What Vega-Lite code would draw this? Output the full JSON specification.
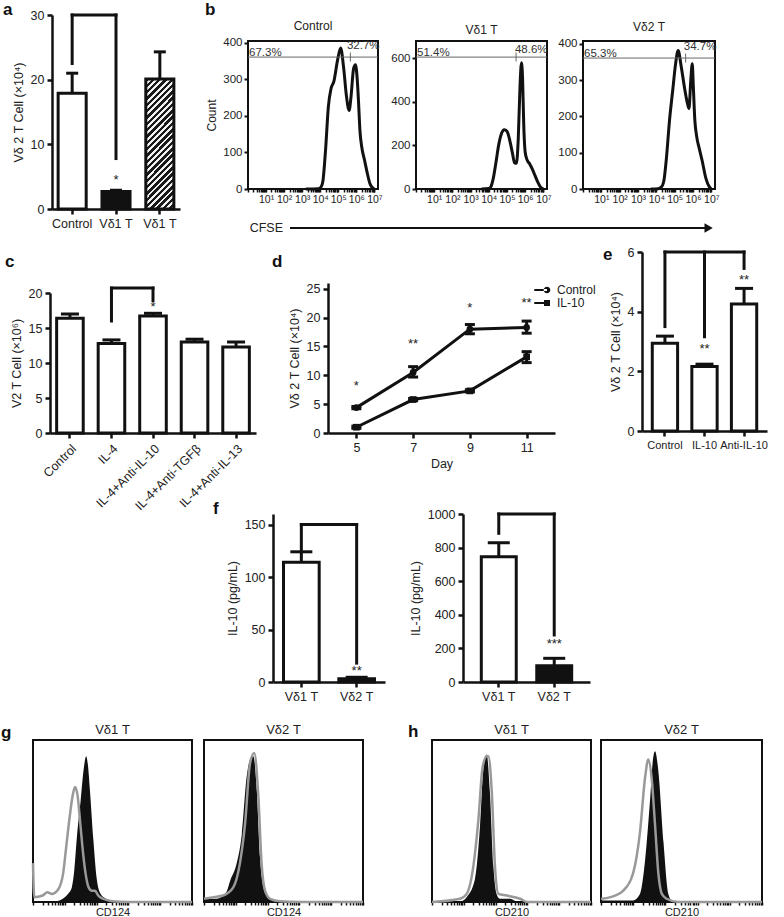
{
"$schema": "https://vega.github.io/schema/vega-lite/v6.json",
"padding": 0,
"background": "white",
"bounds": "flush",
"spacing": 0,
"data": {"values": []},
"config": {
  "view": {"stroke": null},
  "font": "Liberation Sans",
  "axis": {"grid": false, "domainColor": "#111", "domainWidth": 2.5, "tickColor": "#111", "tickWidth": 2.5, "tickSize": 5, "labelFontSize": 12.5, "labelColor": "#222", "titleFontSize": 12.5, "titleFontWeight": "normal", "titleColor": "#222", "labelPadding": 3, "titlePadding": 5, "labelOverlap": false},
  "title": {"fontSize": 17, "fontWeight": "bold", "color": "#111", "anchor": "start", "frame": "group"},
  "legend": {"labelFontSize": 12, "labelColor": "#222"}
},
"datasets": {
  "a_bars": [
    {"bar": "Control", "mean": 17.9, "upper": 21.0},
    {"bar": "Vδ1 T", "mean": 2.7, "upper": 2.9},
    {"bar": "Vδ1 T (2)", "mean": 20.1, "upper": 24.3}
  ],
  "c_bars": [
    {"treatment": "Control", "mean": 16.4, "upper": 17.0},
    {"treatment": "IL-4", "mean": 12.8, "upper": 13.3},
    {"treatment": "IL-4+Anti-IL-10", "mean": 16.7, "upper": 17.1},
    {"treatment": "IL-4+Anti-TGFβ", "mean": 13.0, "upper": 13.4},
    {"treatment": "IL-4+Anti-IL-13", "mean": 12.3, "upper": 13.0}
  ],
  "e_bars": [
    {"treatment": "Control", "mean": 2.94, "upper": 3.18},
    {"treatment": "IL-10", "mean": 2.16, "upper": 2.24},
    {"treatment": "Anti-IL-10", "mean": 4.26, "upper": 4.78}
  ],
  "f_bars": [
    {"panel": "f1", "cell": "Vδ1 T", "mean": 114, "upper": 124},
    {"panel": "f1", "cell": "Vδ2 T", "mean": 3, "upper": 4.5},
    {"panel": "f2", "cell": "Vδ1 T", "mean": 746, "upper": 829},
    {"panel": "f2", "cell": "Vδ2 T", "mean": 97, "upper": 141}
  ],
  "brackets": [
    {"panel": "a", "from": "Control", "to": "Control", "top": 30, "bottom": 22.5},
    {"panel": "a", "from": "Control", "to": "Vδ1 T", "top": 30, "bottom": 30},
    {"panel": "a", "from": "Vδ1 T", "to": "Vδ1 T", "top": 30, "bottom": 7.8},
    {"panel": "c", "from": "IL-4", "to": "IL-4", "top": 20.7, "bottom": 16.0},
    {"panel": "c", "from": "IL-4", "to": "IL-4+Anti-IL-10", "top": 20.7, "bottom": 20.7},
    {"panel": "c", "from": "IL-4+Anti-IL-10", "to": "IL-4+Anti-IL-10", "top": 20.7, "bottom": 18.9},
    {"panel": "e", "from": "Control", "to": "Control", "top": 6, "bottom": 3.5},
    {"panel": "e", "from": "Control", "to": "Anti-IL-10", "top": 6, "bottom": 6},
    {"panel": "e", "from": "IL-10", "to": "IL-10", "top": 6, "bottom": 3.16},
    {"panel": "e", "from": "Anti-IL-10", "to": "Anti-IL-10", "top": 6, "bottom": 5.45},
    {"panel": "f1", "from": "Vδ1 T", "to": "Vδ1 T", "top": 150, "bottom": 124},
    {"panel": "f1", "from": "Vδ1 T", "to": "Vδ2 T", "top": 150, "bottom": 150},
    {"panel": "f1", "from": "Vδ2 T", "to": "Vδ2 T", "top": 150, "bottom": 18},
    {"panel": "f2", "from": "Vδ1 T", "to": "Vδ1 T", "top": 1000, "bottom": 885},
    {"panel": "f2", "from": "Vδ1 T", "to": "Vδ2 T", "top": 1000, "bottom": 1000},
    {"panel": "f2", "from": "Vδ2 T", "to": "Vδ2 T", "top": 1000, "bottom": 280}
  ],
  "stars": [
    {"panel": "a", "group": "Vδ1 T", "height": 4.5, "label": "*"},
    {"panel": "c", "group": "IL-4+Anti-IL-10", "height": 18.0, "label": "*"},
    {"panel": "e", "group": "IL-10", "height": 2.74, "label": "**"},
    {"panel": "e", "group": "Anti-IL-10", "height": 5.06, "label": "**"},
    {"panel": "f1", "group": "Vδ2 T", "height": 10.7, "label": "**"},
    {"panel": "f2", "group": "Vδ2 T", "height": 226, "label": "***"}
  ],
  "d_growth": [
    {"group": "Control", "day": 5, "mean": 4.4, "lo": 4.2, "hi": 4.6},
    {"group": "Control", "day": 7, "mean": 10.5, "lo": 9.7, "hi": 11.5},
    {"group": "Control", "day": 9, "mean": 18.0, "lo": 17.2, "hi": 18.8},
    {"group": "Control", "day": 11, "mean": 18.3, "lo": 17.3, "hi": 19.4},
    {"group": "IL-10", "day": 5, "mean": 1.0, "lo": 0.8, "hi": 1.2},
    {"group": "IL-10", "day": 7, "mean": 5.8, "lo": 5.6, "hi": 6.0},
    {"group": "IL-10", "day": 9, "mean": 7.3, "lo": 7.1, "hi": 7.5},
    {"group": "IL-10", "day": 11, "mean": 13.2, "lo": 12.2, "hi": 14.1}
  ],
  "d_stars": [
    {"day": 5, "height": 8.2, "label": "*"},
    {"day": 7, "height": 15.5, "label": "**"},
    {"day": 9, "height": 21.7, "label": "*"},
    {"day": 11, "height": 22.6, "label": "**"}
  ],
  "gates": [
    {"panel": "Control", "gate_count": 361, "split": 5.67, "left_pct": "67.3%", "right_pct": "32.7%", "right_x": 5.48, "right_count": 383},
    {"panel": "Vδ1 T", "gate_count": 606, "split": 5.5, "left_pct": "51.4%", "right_pct": "48.6%", "right_x": 5.44, "right_count": 624},
    {"panel": "Vδ2 T", "gate_count": 361, "split": 5.6, "left_pct": "65.3%", "right_pct": "34.7%", "right_x": 5.5, "right_count": 383}
  ],
  "cfse": [
    {"panel": "Control", "log10_cfse": 3.2, "count": 0},
    {"panel": "Control", "log10_cfse": 3.9, "count": 1},
    {"panel": "Control", "log10_cfse": 4.05, "count": 6},
    {"panel": "Control", "log10_cfse": 4.15, "count": 22},
    {"panel": "Control", "log10_cfse": 4.3, "count": 110},
    {"panel": "Control", "log10_cfse": 4.45, "count": 225},
    {"panel": "Control", "log10_cfse": 4.6, "count": 275},
    {"panel": "Control", "log10_cfse": 4.76, "count": 295},
    {"panel": "Control", "log10_cfse": 4.95, "count": 350},
    {"panel": "Control", "log10_cfse": 5.13, "count": 386},
    {"panel": "Control", "log10_cfse": 5.3, "count": 330},
    {"panel": "Control", "log10_cfse": 5.45, "count": 255},
    {"panel": "Control", "log10_cfse": 5.6, "count": 215},
    {"panel": "Control", "log10_cfse": 5.7, "count": 250},
    {"panel": "Control", "log10_cfse": 5.85, "count": 330},
    {"panel": "Control", "log10_cfse": 5.95, "count": 340},
    {"panel": "Control", "log10_cfse": 6.05, "count": 300},
    {"panel": "Control", "log10_cfse": 6.12, "count": 240},
    {"panel": "Control", "log10_cfse": 6.2, "count": 160},
    {"panel": "Control", "log10_cfse": 6.3, "count": 115},
    {"panel": "Control", "log10_cfse": 6.45, "count": 80},
    {"panel": "Control", "log10_cfse": 6.6, "count": 45},
    {"panel": "Control", "log10_cfse": 6.75, "count": 15},
    {"panel": "Control", "log10_cfse": 6.9, "count": 3},
    {"panel": "Control", "log10_cfse": 7.0, "count": 0},
    {"panel": "Vδ1 T", "log10_cfse": 3.6, "count": 0},
    {"panel": "Vδ1 T", "log10_cfse": 4.0, "count": 2},
    {"panel": "Vδ1 T", "log10_cfse": 4.1, "count": 8},
    {"panel": "Vδ1 T", "log10_cfse": 4.25, "count": 50},
    {"panel": "Vδ1 T", "log10_cfse": 4.4, "count": 125},
    {"panel": "Vδ1 T", "log10_cfse": 4.55, "count": 205},
    {"panel": "Vδ1 T", "log10_cfse": 4.7, "count": 255},
    {"panel": "Vδ1 T", "log10_cfse": 4.85, "count": 272},
    {"panel": "Vδ1 T", "log10_cfse": 5.0, "count": 265},
    {"panel": "Vδ1 T", "log10_cfse": 5.15, "count": 225},
    {"panel": "Vδ1 T", "log10_cfse": 5.3, "count": 165},
    {"panel": "Vδ1 T", "log10_cfse": 5.42, "count": 120},
    {"panel": "Vδ1 T", "log10_cfse": 5.52, "count": 118},
    {"panel": "Vδ1 T", "log10_cfse": 5.62, "count": 230},
    {"panel": "Vδ1 T", "log10_cfse": 5.72, "count": 480},
    {"panel": "Vδ1 T", "log10_cfse": 5.8, "count": 580},
    {"panel": "Vδ1 T", "log10_cfse": 5.86, "count": 500},
    {"panel": "Vδ1 T", "log10_cfse": 5.92, "count": 300},
    {"panel": "Vδ1 T", "log10_cfse": 6.0, "count": 170},
    {"panel": "Vδ1 T", "log10_cfse": 6.1, "count": 135},
    {"panel": "Vδ1 T", "log10_cfse": 6.25, "count": 115},
    {"panel": "Vδ1 T", "log10_cfse": 6.4, "count": 90},
    {"panel": "Vδ1 T", "log10_cfse": 6.55, "count": 60},
    {"panel": "Vδ1 T", "log10_cfse": 6.7, "count": 30},
    {"panel": "Vδ1 T", "log10_cfse": 6.85, "count": 8},
    {"panel": "Vδ1 T", "log10_cfse": 7.0, "count": 0},
    {"panel": "Vδ2 T", "log10_cfse": 3.7, "count": 0},
    {"panel": "Vδ2 T", "log10_cfse": 4.1, "count": 1},
    {"panel": "Vδ2 T", "log10_cfse": 4.25, "count": 4},
    {"panel": "Vδ2 T", "log10_cfse": 4.4, "count": 20},
    {"panel": "Vδ2 T", "log10_cfse": 4.55, "count": 85},
    {"panel": "Vδ2 T", "log10_cfse": 4.72, "count": 190},
    {"panel": "Vδ2 T", "log10_cfse": 4.9, "count": 275},
    {"panel": "Vδ2 T", "log10_cfse": 5.05, "count": 345},
    {"panel": "Vδ2 T", "log10_cfse": 5.19, "count": 382},
    {"panel": "Vδ2 T", "log10_cfse": 5.35, "count": 340},
    {"panel": "Vδ2 T", "log10_cfse": 5.55, "count": 275},
    {"panel": "Vδ2 T", "log10_cfse": 5.7, "count": 235},
    {"panel": "Vδ2 T", "log10_cfse": 5.78, "count": 222},
    {"panel": "Vδ2 T", "log10_cfse": 5.88, "count": 300},
    {"panel": "Vδ2 T", "log10_cfse": 5.96, "count": 345},
    {"panel": "Vδ2 T", "log10_cfse": 6.02, "count": 280},
    {"panel": "Vδ2 T", "log10_cfse": 6.1, "count": 190},
    {"panel": "Vδ2 T", "log10_cfse": 6.2, "count": 145},
    {"panel": "Vδ2 T", "log10_cfse": 6.35, "count": 110},
    {"panel": "Vδ2 T", "log10_cfse": 6.5, "count": 78},
    {"panel": "Vδ2 T", "log10_cfse": 6.7, "count": 30},
    {"panel": "Vδ2 T", "log10_cfse": 6.9, "count": 5},
    {"panel": "Vδ2 T", "log10_cfse": 7.0, "count": 0}
  ],
  "markers": [
    {"panel": "g1", "series": "antibody", "log_intensity": 0, "count": 0},
    {"panel": "g1", "series": "antibody", "log_intensity": 0.7, "count": 0.5},
    {"panel": "g1", "series": "antibody", "log_intensity": 1.0, "count": 3},
    {"panel": "g1", "series": "antibody", "log_intensity": 1.1, "count": 5},
    {"panel": "g1", "series": "antibody", "log_intensity": 1.22, "count": 9},
    {"panel": "g1", "series": "antibody", "log_intensity": 1.3, "count": 20},
    {"panel": "g1", "series": "antibody", "log_intensity": 1.38, "count": 40},
    {"panel": "g1", "series": "antibody", "log_intensity": 1.5, "count": 63},
    {"panel": "g1", "series": "antibody", "log_intensity": 1.6, "count": 83},
    {"panel": "g1", "series": "antibody", "log_intensity": 1.67, "count": 90},
    {"panel": "g1", "series": "antibody", "log_intensity": 1.73, "count": 84},
    {"panel": "g1", "series": "antibody", "log_intensity": 1.79, "count": 69},
    {"panel": "g1", "series": "antibody", "log_intensity": 1.9, "count": 38},
    {"panel": "g1", "series": "antibody", "log_intensity": 2.0, "count": 15},
    {"panel": "g1", "series": "antibody", "log_intensity": 2.1, "count": 6},
    {"panel": "g1", "series": "antibody", "log_intensity": 2.3, "count": 2},
    {"panel": "g1", "series": "antibody", "log_intensity": 2.6, "count": 0.5},
    {"panel": "g1", "series": "antibody", "log_intensity": 3, "count": 0},
    {"panel": "g1", "series": "antibody", "log_intensity": 5, "count": 0},
    {"panel": "g1", "series": "control", "log_intensity": 0, "count": 24},
    {"panel": "g1", "series": "control", "log_intensity": 0.04, "count": 3},
    {"panel": "g1", "series": "control", "log_intensity": 0.3, "count": 4},
    {"panel": "g1", "series": "control", "log_intensity": 0.45, "count": 6},
    {"panel": "g1", "series": "control", "log_intensity": 0.6, "count": 5},
    {"panel": "g1", "series": "control", "log_intensity": 0.8, "count": 8},
    {"panel": "g1", "series": "control", "log_intensity": 0.95, "count": 18},
    {"panel": "g1", "series": "control", "log_intensity": 1.05, "count": 35},
    {"panel": "g1", "series": "control", "log_intensity": 1.15, "count": 52},
    {"panel": "g1", "series": "control", "log_intensity": 1.25, "count": 66},
    {"panel": "g1", "series": "control", "log_intensity": 1.32, "count": 71},
    {"panel": "g1", "series": "control", "log_intensity": 1.4, "count": 66},
    {"panel": "g1", "series": "control", "log_intensity": 1.48, "count": 50},
    {"panel": "g1", "series": "control", "log_intensity": 1.55, "count": 35},
    {"panel": "g1", "series": "control", "log_intensity": 1.65, "count": 18},
    {"panel": "g1", "series": "control", "log_intensity": 1.75, "count": 9},
    {"panel": "g1", "series": "control", "log_intensity": 1.85, "count": 7},
    {"panel": "g1", "series": "control", "log_intensity": 1.95, "count": 7},
    {"panel": "g1", "series": "control", "log_intensity": 2.05, "count": 4},
    {"panel": "g1", "series": "control", "log_intensity": 2.2, "count": 2},
    {"panel": "g1", "series": "control", "log_intensity": 2.5, "count": 0.5},
    {"panel": "g1", "series": "control", "log_intensity": 3, "count": 0},
    {"panel": "g1", "series": "control", "log_intensity": 5, "count": 0},
    {"panel": "g2", "series": "antibody", "log_intensity": 0, "count": 12},
    {"panel": "g2", "series": "antibody", "log_intensity": 0.04, "count": 2},
    {"panel": "g2", "series": "antibody", "log_intensity": 0.4, "count": 2},
    {"panel": "g2", "series": "antibody", "log_intensity": 0.7, "count": 6},
    {"panel": "g2", "series": "antibody", "log_intensity": 0.82, "count": 13},
    {"panel": "g2", "series": "antibody", "log_intensity": 1.03, "count": 24},
    {"panel": "g2", "series": "antibody", "log_intensity": 1.19, "count": 42},
    {"panel": "g2", "series": "antibody", "log_intensity": 1.34, "count": 77},
    {"panel": "g2", "series": "antibody", "log_intensity": 1.45, "count": 88},
    {"panel": "g2", "series": "antibody", "log_intensity": 1.55, "count": 90},
    {"panel": "g2", "series": "antibody", "log_intensity": 1.66, "count": 69},
    {"panel": "g2", "series": "antibody", "log_intensity": 1.76, "count": 28},
    {"panel": "g2", "series": "antibody", "log_intensity": 1.87, "count": 9},
    {"panel": "g2", "series": "antibody", "log_intensity": 1.97, "count": 4},
    {"panel": "g2", "series": "antibody", "log_intensity": 2.2, "count": 1},
    {"panel": "g2", "series": "antibody", "log_intensity": 2.6, "count": 0},
    {"panel": "g2", "series": "antibody", "log_intensity": 5, "count": 0},
    {"panel": "g2", "series": "control", "log_intensity": 0, "count": 2},
    {"panel": "g2", "series": "control", "log_intensity": 0.3, "count": 3},
    {"panel": "g2", "series": "control", "log_intensity": 0.6, "count": 4},
    {"panel": "g2", "series": "control", "log_intensity": 0.92, "count": 9},
    {"panel": "g2", "series": "control", "log_intensity": 1.13, "count": 24},
    {"panel": "g2", "series": "control", "log_intensity": 1.29, "count": 48},
    {"panel": "g2", "series": "control", "log_intensity": 1.45, "count": 86},
    {"panel": "g2", "series": "control", "log_intensity": 1.58, "count": 92},
    {"panel": "g2", "series": "control", "log_intensity": 1.71, "count": 65},
    {"panel": "g2", "series": "control", "log_intensity": 1.81, "count": 24},
    {"panel": "g2", "series": "control", "log_intensity": 1.92, "count": 7},
    {"panel": "g2", "series": "control", "log_intensity": 2.08, "count": 2},
    {"panel": "g2", "series": "control", "log_intensity": 2.4, "count": 0.5},
    {"panel": "g2", "series": "control", "log_intensity": 3, "count": 0},
    {"panel": "g2", "series": "control", "log_intensity": 5, "count": 0},
    {"panel": "h1", "series": "antibody", "log_intensity": 0, "count": 0},
    {"panel": "h1", "series": "antibody", "log_intensity": 0.9, "count": 0.5},
    {"panel": "h1", "series": "antibody", "log_intensity": 1.09, "count": 3},
    {"panel": "h1", "series": "antibody", "log_intensity": 1.35, "count": 14},
    {"panel": "h1", "series": "antibody", "log_intensity": 1.51, "count": 47},
    {"panel": "h1", "series": "antibody", "log_intensity": 1.61, "count": 81},
    {"panel": "h1", "series": "antibody", "log_intensity": 1.72, "count": 91},
    {"panel": "h1", "series": "antibody", "log_intensity": 1.82, "count": 68},
    {"panel": "h1", "series": "antibody", "log_intensity": 1.93, "count": 22},
    {"panel": "h1", "series": "antibody", "log_intensity": 2.03, "count": 5},
    {"panel": "h1", "series": "antibody", "log_intensity": 2.14, "count": 2},
    {"panel": "h1", "series": "antibody", "log_intensity": 2.45, "count": 2},
    {"panel": "h1", "series": "antibody", "log_intensity": 2.7, "count": 0},
    {"panel": "h1", "series": "antibody", "log_intensity": 5, "count": 0},
    {"panel": "h1", "series": "control", "log_intensity": 0, "count": 0},
    {"panel": "h1", "series": "control", "log_intensity": 0.88, "count": 2},
    {"panel": "h1", "series": "control", "log_intensity": 1.09, "count": 5},
    {"panel": "h1", "series": "control", "log_intensity": 1.3, "count": 22},
    {"panel": "h1", "series": "control", "log_intensity": 1.46, "count": 51},
    {"panel": "h1", "series": "control", "log_intensity": 1.59, "count": 83},
    {"panel": "h1", "series": "control", "log_intensity": 1.72, "count": 90},
    {"panel": "h1", "series": "control", "log_intensity": 1.77, "count": 90},
    {"panel": "h1", "series": "control", "log_intensity": 1.88, "count": 68},
    {"panel": "h1", "series": "control", "log_intensity": 1.98, "count": 22},
    {"panel": "h1", "series": "control", "log_intensity": 2.09, "count": 5},
    {"panel": "h1", "series": "control", "log_intensity": 2.35, "count": 4},
    {"panel": "h1", "series": "control", "log_intensity": 2.77, "count": 2},
    {"panel": "h1", "series": "control", "log_intensity": 3.0, "count": 0},
    {"panel": "h1", "series": "control", "log_intensity": 5, "count": 0},
    {"panel": "h2", "series": "antibody", "log_intensity": 0, "count": 10},
    {"panel": "h2", "series": "antibody", "log_intensity": 0.04, "count": 1},
    {"panel": "h2", "series": "antibody", "log_intensity": 1.0, "count": 1},
    {"panel": "h2", "series": "antibody", "log_intensity": 1.21, "count": 5},
    {"panel": "h2", "series": "antibody", "log_intensity": 1.37, "count": 26},
    {"panel": "h2", "series": "antibody", "log_intensity": 1.52, "count": 62},
    {"panel": "h2", "series": "antibody", "log_intensity": 1.62, "count": 89},
    {"panel": "h2", "series": "antibody", "log_intensity": 1.68, "count": 93},
    {"panel": "h2", "series": "antibody", "log_intensity": 1.78, "count": 81},
    {"panel": "h2", "series": "antibody", "log_intensity": 1.94, "count": 37},
    {"panel": "h2", "series": "antibody", "log_intensity": 2.09, "count": 5},
    {"panel": "h2", "series": "antibody", "log_intensity": 2.2, "count": 1},
    {"panel": "h2", "series": "antibody", "log_intensity": 2.5, "count": 0},
    {"panel": "h2", "series": "antibody", "log_intensity": 5, "count": 0},
    {"panel": "h2", "series": "control", "log_intensity": 0, "count": 2},
    {"panel": "h2", "series": "control", "log_intensity": 0.3, "count": 3},
    {"panel": "h2", "series": "control", "log_intensity": 0.69, "count": 7},
    {"panel": "h2", "series": "control", "log_intensity": 1.0, "count": 18},
    {"panel": "h2", "series": "control", "log_intensity": 1.21, "count": 43},
    {"panel": "h2", "series": "control", "log_intensity": 1.37, "count": 77},
    {"panel": "h2", "series": "control", "log_intensity": 1.47, "count": 88},
    {"panel": "h2", "series": "control", "log_intensity": 1.57, "count": 77},
    {"panel": "h2", "series": "control", "log_intensity": 1.68, "count": 47},
    {"panel": "h2", "series": "control", "log_intensity": 1.78, "count": 18},
    {"panel": "h2", "series": "control", "log_intensity": 1.89, "count": 5},
    {"panel": "h2", "series": "control", "log_intensity": 2.04, "count": 2},
    {"panel": "h2", "series": "control", "log_intensity": 2.4, "count": 0},
    {"panel": "h2", "series": "control", "log_intensity": 5, "count": 0}
  ]
},
"vconcat": [
  {"width": 1, "height": 15, "mark": "point"},
  {"hconcat": [
    {"width": 52, "height": 194, "mark": "point", "title": {"text": "a", "dx": 3, "offset": -4}},
    {"width": 128, "height": 194,
     "layer": [
      {"data": {"name": "a_bars"}, "transform": [{"filter": "datum.bar != 'Vδ1 T (2)'"}],
       "mark": {"type": "bar", "stroke": "#111", "strokeWidth": 3},
       "encoding": {
        "x": {"field": "bar", "type": "nominal", "sort": null, "scale": {"domain": ["Control", "Vδ1 T", "Vδ1 T (2)"], "paddingInner": 0.36, "paddingOuter": 0.14}, "axis": {"title": null, "labelAngle": 0, "labelExpr": "replace(datum.label, ' (2)', '')", "labelPadding": 3}},
        "y": {"field": "mean", "type": "quantitative", "scale": {"domain": [0, 30]}, "axis": {"values": [0, 10, 20, 30], "tickCount": 100, "format": "d", "title": "Vδ 2 T Cell (×10⁴)"}},
        "fill": {"condition": {"test": "datum.bar == 'Vδ1 T'", "value": "#111"}, "value": "white"}
       }},
      {"data": {"name": "a_bars"}, "transform": [{"filter": "datum.bar == 'Vδ1 T (2)'"}],
       "mark": {"type": "bar", "stroke": "#111", "strokeWidth": 3, "fill": {"gradient": "linear", "x1": 0, "y1": 0, "x2": 0.252, "y2": 1.162, "stops": [
        {"offset": 0, "color": "#1a1a1a"}, {"offset": 0.022, "color": "#1a1a1a"}, {"offset": 0.022, "color": "#f0f0f0"}, {"offset": 0.04, "color": "#f0f0f0"},
        {"offset": 0.04, "color": "#1a1a1a"}, {"offset": 0.062, "color": "#1a1a1a"}, {"offset": 0.062, "color": "#f0f0f0"}, {"offset": 0.08, "color": "#f0f0f0"},
        {"offset": 0.08, "color": "#1a1a1a"}, {"offset": 0.102, "color": "#1a1a1a"}, {"offset": 0.102, "color": "#f0f0f0"}, {"offset": 0.12, "color": "#f0f0f0"},
        {"offset": 0.12, "color": "#1a1a1a"}, {"offset": 0.142, "color": "#1a1a1a"}, {"offset": 0.142, "color": "#f0f0f0"}, {"offset": 0.16, "color": "#f0f0f0"},
        {"offset": 0.16, "color": "#1a1a1a"}, {"offset": 0.182, "color": "#1a1a1a"}, {"offset": 0.182, "color": "#f0f0f0"}, {"offset": 0.2, "color": "#f0f0f0"},
        {"offset": 0.2, "color": "#1a1a1a"}, {"offset": 0.222, "color": "#1a1a1a"}, {"offset": 0.222, "color": "#f0f0f0"}, {"offset": 0.24, "color": "#f0f0f0"},
        {"offset": 0.24, "color": "#1a1a1a"}, {"offset": 0.262, "color": "#1a1a1a"}, {"offset": 0.262, "color": "#f0f0f0"}, {"offset": 0.28, "color": "#f0f0f0"},
        {"offset": 0.28, "color": "#1a1a1a"}, {"offset": 0.302, "color": "#1a1a1a"}, {"offset": 0.302, "color": "#f0f0f0"}, {"offset": 0.32, "color": "#f0f0f0"},
        {"offset": 0.32, "color": "#1a1a1a"}, {"offset": 0.342, "color": "#1a1a1a"}, {"offset": 0.342, "color": "#f0f0f0"}, {"offset": 0.36, "color": "#f0f0f0"},
        {"offset": 0.36, "color": "#1a1a1a"}, {"offset": 0.382, "color": "#1a1a1a"}, {"offset": 0.382, "color": "#f0f0f0"}, {"offset": 0.4, "color": "#f0f0f0"},
        {"offset": 0.4, "color": "#1a1a1a"}, {"offset": 0.422, "color": "#1a1a1a"}, {"offset": 0.422, "color": "#f0f0f0"}, {"offset": 0.44, "color": "#f0f0f0"},
        {"offset": 0.44, "color": "#1a1a1a"}, {"offset": 0.462, "color": "#1a1a1a"}, {"offset": 0.462, "color": "#f0f0f0"}, {"offset": 0.48, "color": "#f0f0f0"},
        {"offset": 0.48, "color": "#1a1a1a"}, {"offset": 0.502, "color": "#1a1a1a"}, {"offset": 0.502, "color": "#f0f0f0"}, {"offset": 0.52, "color": "#f0f0f0"},
        {"offset": 0.52, "color": "#1a1a1a"}, {"offset": 0.542, "color": "#1a1a1a"}, {"offset": 0.542, "color": "#f0f0f0"}, {"offset": 0.56, "color": "#f0f0f0"},
        {"offset": 0.56, "color": "#1a1a1a"}, {"offset": 0.582, "color": "#1a1a1a"}, {"offset": 0.582, "color": "#f0f0f0"}, {"offset": 0.6, "color": "#f0f0f0"},
        {"offset": 0.6, "color": "#1a1a1a"}, {"offset": 0.622, "color": "#1a1a1a"}, {"offset": 0.622, "color": "#f0f0f0"}, {"offset": 0.64, "color": "#f0f0f0"},
        {"offset": 0.64, "color": "#1a1a1a"}, {"offset": 0.662, "color": "#1a1a1a"}, {"offset": 0.662, "color": "#f0f0f0"}, {"offset": 0.68, "color": "#f0f0f0"},
        {"offset": 0.68, "color": "#1a1a1a"}, {"offset": 0.702, "color": "#1a1a1a"}, {"offset": 0.702, "color": "#f0f0f0"}, {"offset": 0.72, "color": "#f0f0f0"},
        {"offset": 0.72, "color": "#1a1a1a"}, {"offset": 0.742, "color": "#1a1a1a"}, {"offset": 0.742, "color": "#f0f0f0"}, {"offset": 0.76, "color": "#f0f0f0"},
        {"offset": 0.76, "color": "#1a1a1a"}, {"offset": 0.782, "color": "#1a1a1a"}, {"offset": 0.782, "color": "#f0f0f0"}, {"offset": 0.8, "color": "#f0f0f0"},
        {"offset": 0.8, "color": "#1a1a1a"}, {"offset": 0.822, "color": "#1a1a1a"}, {"offset": 0.822, "color": "#f0f0f0"}, {"offset": 0.84, "color": "#f0f0f0"},
        {"offset": 0.84, "color": "#1a1a1a"}, {"offset": 0.862, "color": "#1a1a1a"}, {"offset": 0.862, "color": "#f0f0f0"}, {"offset": 0.88, "color": "#f0f0f0"},
        {"offset": 0.88, "color": "#1a1a1a"}, {"offset": 0.902, "color": "#1a1a1a"}, {"offset": 0.902, "color": "#f0f0f0"}, {"offset": 0.92, "color": "#f0f0f0"},
        {"offset": 0.92, "color": "#1a1a1a"}, {"offset": 0.942, "color": "#1a1a1a"}, {"offset": 0.942, "color": "#f0f0f0"}, {"offset": 0.96, "color": "#f0f0f0"},
        {"offset": 0.96, "color": "#1a1a1a"}, {"offset": 0.982, "color": "#1a1a1a"}, {"offset": 0.982, "color": "#f0f0f0"}, {"offset": 1, "color": "#f0f0f0"}
       ]}},
       "encoding": {"x": {"field": "bar", "type": "nominal"}, "y": {"field": "mean", "type": "quantitative"}}},
      {"data": {"name": "a_bars"}, "mark": {"type": "rule", "color": "#111", "strokeWidth": 3},
       "encoding": {"x": {"field": "bar", "type": "nominal"}, "y": {"field": "mean", "type": "quantitative"}, "y2": {"field": "upper"}}},
      {"data": {"name": "a_bars"}, "mark": {"type": "tick", "orient": "horizontal", "size": 12, "thickness": 3, "color": "#111", "opacity": 1},
       "encoding": {"x": {"field": "bar", "type": "nominal"}, "y": {"field": "upper", "type": "quantitative"}}},
      {"data": {"name": "brackets"}, "transform": [{"filter": "datum.panel == 'a'"}], "mark": {"type": "rule", "color": "#111", "strokeWidth": 3, "strokeCap": "square"},
       "encoding": {"x": {"field": "from", "type": "nominal"}, "x2": {"field": "to"}, "y": {"field": "top", "type": "quantitative"}, "y2": {"field": "bottom"}}},
      {"data": {"name": "stars"}, "transform": [{"filter": "datum.panel == 'a'"}], "mark": {"type": "text", "fontSize": 13, "color": "#222", "baseline": "middle"},
       "encoding": {"x": {"field": "group", "type": "nominal"}, "y": {"field": "height", "type": "quantitative"}, "text": {"field": "label"}}}
     ]},
    {"width": 68, "height": 194, "mark": "point", "title": {"text": "b", "dx": 25, "offset": -4}},
    {"vconcat": [
      {"width": 1, "height": 26, "mark": "point"},
      {"hconcat": [
        {"width": 130, "height": 148,
         "title": {"text": "Control", "anchor": "middle", "fontSize": 12, "fontWeight": "normal", "color": "#222", "offset": 4},
         "view": {"stroke": "#111", "strokeWidth": 2},
         "layer": [
          {"data": {"name": "cfse"}, "transform": [{"filter": "datum.panel == 'Control'"}],
           "mark": {"type": "line", "color": "#111", "strokeWidth": 3, "interpolate": "monotone"},
           "encoding": {
            "x": {"field": "log10_cfse", "type": "quantitative", "scale": {"domain": [0, 7.2], "nice": false, "zero": false},
                  "axis": {"title": null, "domain": false, "tickCount": 200, "values": [0,0.301,0.477,0.602,0.699,0.778,0.845,0.903,0.954,1,1.301,1.477,1.602,1.699,1.778,1.845,1.903,1.954,2,2.301,2.477,2.602,2.699,2.778,2.845,2.903,2.954,3,3.301,3.477,3.602,3.699,3.778,3.845,3.903,3.954,4,4.301,4.477,4.602,4.699,4.778,4.845,4.903,4.954,5,5.301,5.477,5.602,5.699,5.778,5.845,5.903,5.954,6,6.301,6.477,6.602,6.699,6.778,6.845,6.903,6.954,7], "labelExpr": "datum.value % 1 == 0 && datum.value > 0 ? '10' + ['⁰','¹','²','³','⁴','⁵','⁶','⁷'][datum.value] : ''", "labelFontSize": 10.5, "labelPadding": 2, "labelFlush": false, "tickWidth": 1.5, "tickSize": 3}},
            "y": {"field": "count", "type": "quantitative", "scale": {"domain": [0, 405], "nice": false},
                  "axis": {"values": [0, 100, 200, 300, 400], "tickCount": 100, "format": "d", "title": "Count", "domain": false, "tickSize": 4, "tickWidth": 2, "labelFontSize": 11.5, "labelPadding": 2, "titlePadding": 4, "titleFontSize": 12}}
           }},
          {"data": {"name": "gates"}, "transform": [{"filter": "datum.panel == 'Control'"}], "mark": {"type": "rule", "color": "#666", "strokeWidth": 1},
           "encoding": {"x": {"datum": 0, "type": "quantitative"}, "x2": {"datum": 7.2}, "y": {"field": "gate_count", "type": "quantitative"}}},
          {"data": {"name": "gates"}, "transform": [{"filter": "datum.panel == 'Control'"}], "mark": {"type": "tick", "orient": "vertical", "size": 9, "thickness": 1, "color": "#666", "opacity": 1},
           "encoding": {"x": {"field": "split", "type": "quantitative"}, "y": {"field": "gate_count", "type": "quantitative"}}},
          {"data": {"name": "gates"}, "transform": [{"filter": "datum.panel == 'Control'"}], "mark": {"type": "text", "align": "left", "baseline": "alphabetic", "fontSize": 11.5, "color": "#333", "dx": 1, "dy": -1},
           "encoding": {"x": {"datum": 0, "type": "quantitative"}, "y": {"field": "gate_count", "type": "quantitative"}, "text": {"field": "left_pct"}}},
          {"data": {"name": "gates"}, "transform": [{"filter": "datum.panel == 'Control'"}], "mark": {"type": "text", "align": "left", "baseline": "alphabetic", "fontSize": 11.5, "color": "#333"},
           "encoding": {"x": {"field": "right_x", "type": "quantitative"}, "y": {"field": "right_count", "type": "quantitative"}, "text": {"field": "right_pct"}}}
         ]},
        {"width": 38, "height": 148, "mark": "point"},
        {"width": 131, "height": 148,
         "title": {"text": "Vδ1 T", "anchor": "middle", "fontSize": 12, "fontWeight": "normal", "color": "#222", "offset": 4},
         "view": {"stroke": "#111", "strokeWidth": 2},
         "layer": [
          {"data": {"name": "cfse"}, "transform": [{"filter": "datum.panel == 'Vδ1 T'"}],
           "mark": {"type": "line", "color": "#111", "strokeWidth": 3, "interpolate": "monotone"},
           "encoding": {
            "x": {"field": "log10_cfse", "type": "quantitative", "scale": {"domain": [0, 7.2], "nice": false, "zero": false},
                  "axis": {"title": null, "domain": false, "tickCount": 200, "values": [0,0.301,0.477,0.602,0.699,0.778,0.845,0.903,0.954,1,1.301,1.477,1.602,1.699,1.778,1.845,1.903,1.954,2,2.301,2.477,2.602,2.699,2.778,2.845,2.903,2.954,3,3.301,3.477,3.602,3.699,3.778,3.845,3.903,3.954,4,4.301,4.477,4.602,4.699,4.778,4.845,4.903,4.954,5,5.301,5.477,5.602,5.699,5.778,5.845,5.903,5.954,6,6.301,6.477,6.602,6.699,6.778,6.845,6.903,6.954,7], "labelExpr": "datum.value % 1 == 0 && datum.value > 0 ? '10' + ['⁰','¹','²','³','⁴','⁵','⁶','⁷'][datum.value] : ''", "labelFontSize": 10.5, "labelPadding": 2, "labelFlush": false, "tickWidth": 1.5, "tickSize": 3}},
            "y": {"field": "count", "type": "quantitative", "scale": {"domain": [0, 680], "nice": false},
                  "axis": {"values": [0, 200, 400, 600], "tickCount": 100, "format": "d", "title": null, "domain": false, "tickSize": 4, "tickWidth": 2, "labelFontSize": 11.5, "labelPadding": 2}}
           }},
          {"data": {"name": "gates"}, "transform": [{"filter": "datum.panel == 'Vδ1 T'"}], "mark": {"type": "rule", "color": "#666", "strokeWidth": 1},
           "encoding": {"x": {"datum": 0, "type": "quantitative"}, "x2": {"datum": 7.2}, "y": {"field": "gate_count", "type": "quantitative"}}},
          {"data": {"name": "gates"}, "transform": [{"filter": "datum.panel == 'Vδ1 T'"}], "mark": {"type": "tick", "orient": "vertical", "size": 9, "thickness": 1, "color": "#666", "opacity": 1},
           "encoding": {"x": {"field": "split", "type": "quantitative"}, "y": {"field": "gate_count", "type": "quantitative"}}},
          {"data": {"name": "gates"}, "transform": [{"filter": "datum.panel == 'Vδ1 T'"}], "mark": {"type": "text", "align": "left", "baseline": "alphabetic", "fontSize": 11.5, "color": "#333", "dx": 1, "dy": -1},
           "encoding": {"x": {"datum": 0, "type": "quantitative"}, "y": {"field": "gate_count", "type": "quantitative"}, "text": {"field": "left_pct"}}},
          {"data": {"name": "gates"}, "transform": [{"filter": "datum.panel == 'Vδ1 T'"}], "mark": {"type": "text", "align": "left", "baseline": "alphabetic", "fontSize": 11.5, "color": "#333"},
           "encoding": {"x": {"field": "right_x", "type": "quantitative"}, "y": {"field": "right_count", "type": "quantitative"}, "text": {"field": "right_pct"}}}
         ]},
        {"width": 36, "height": 148, "mark": "point"},
        {"width": 132, "height": 148,
         "title": {"text": "Vδ2 T", "anchor": "middle", "fontSize": 12, "fontWeight": "normal", "color": "#222", "offset": 4},
         "view": {"stroke": "#111", "strokeWidth": 2},
         "layer": [
          {"data": {"name": "cfse"}, "transform": [{"filter": "datum.panel == 'Vδ2 T'"}],
           "mark": {"type": "line", "color": "#111", "strokeWidth": 3, "interpolate": "monotone"},
           "encoding": {
            "x": {"field": "log10_cfse", "type": "quantitative", "scale": {"domain": [0, 7.2], "nice": false, "zero": false},
                  "axis": {"title": null, "domain": false, "tickCount": 200, "values": [0,0.301,0.477,0.602,0.699,0.778,0.845,0.903,0.954,1,1.301,1.477,1.602,1.699,1.778,1.845,1.903,1.954,2,2.301,2.477,2.602,2.699,2.778,2.845,2.903,2.954,3,3.301,3.477,3.602,3.699,3.778,3.845,3.903,3.954,4,4.301,4.477,4.602,4.699,4.778,4.845,4.903,4.954,5,5.301,5.477,5.602,5.699,5.778,5.845,5.903,5.954,6,6.301,6.477,6.602,6.699,6.778,6.845,6.903,6.954,7], "labelExpr": "datum.value % 1 == 0 && datum.value > 0 ? '10' + ['⁰','¹','²','³','⁴','⁵','⁶','⁷'][datum.value] : ''", "labelFontSize": 10.5, "labelPadding": 2, "labelFlush": false, "tickWidth": 1.5, "tickSize": 3}},
            "y": {"field": "count", "type": "quantitative", "scale": {"domain": [0, 408], "nice": false},
                  "axis": {"values": [0, 100, 200, 300, 400], "tickCount": 100, "format": "d", "title": null, "domain": false, "tickSize": 4, "tickWidth": 2, "labelFontSize": 11.5, "labelPadding": 2}}
           }},
          {"data": {"name": "gates"}, "transform": [{"filter": "datum.panel == 'Vδ2 T'"}], "mark": {"type": "rule", "color": "#666", "strokeWidth": 1},
           "encoding": {"x": {"datum": 0, "type": "quantitative"}, "x2": {"datum": 7.2}, "y": {"field": "gate_count", "type": "quantitative"}}},
          {"data": {"name": "gates"}, "transform": [{"filter": "datum.panel == 'Vδ2 T'"}], "mark": {"type": "tick", "orient": "vertical", "size": 9, "thickness": 1, "color": "#666", "opacity": 1},
           "encoding": {"x": {"field": "split", "type": "quantitative"}, "y": {"field": "gate_count", "type": "quantitative"}}},
          {"data": {"name": "gates"}, "transform": [{"filter": "datum.panel == 'Vδ2 T'"}], "mark": {"type": "text", "align": "left", "baseline": "alphabetic", "fontSize": 11.5, "color": "#333", "dx": 1, "dy": -1},
           "encoding": {"x": {"datum": 0, "type": "quantitative"}, "y": {"field": "gate_count", "type": "quantitative"}, "text": {"field": "left_pct"}}},
          {"data": {"name": "gates"}, "transform": [{"filter": "datum.panel == 'Vδ2 T'"}], "mark": {"type": "text", "align": "left", "baseline": "alphabetic", "fontSize": 11.5, "color": "#333"},
           "encoding": {"x": {"field": "right_x", "type": "quantitative"}, "y": {"field": "right_count", "type": "quantitative"}, "text": {"field": "right_pct"}}}
         ]}
      ], "spacing": 0, "bounds": "flush"},
      {"width": 1, "height": 182, "mark": "point"},
      {"hconcat": [
        {"width": 42, "height": 10, "mark": "point"},
        {"width": 425, "height": 10,
         "data": {"values": [{"label": "CFSE"}]},
         "layer": [
          {"mark": {"type": "rule", "color": "#111", "strokeWidth": 2},
           "encoding": {"x": {"datum": 0, "type": "quantitative", "scale": {"domain": [0, 1]}, "axis": null}, "x2": {"datum": 0.98}, "y": {"datum": 0, "type": "quantitative", "scale": {"domain": [-1, 1]}, "axis": null}}},
          {"mark": {"type": "point", "shape": "triangle-right", "filled": true, "color": "#111", "size": 90, "opacity": 1},
           "encoding": {"x": {"datum": 0.985, "type": "quantitative"}, "y": {"datum": 0, "type": "quantitative"}}},
          {"mark": {"type": "text", "align": "right", "baseline": "middle", "fontSize": 12.5, "dx": -7, "color": "#222"},
           "encoding": {"x": {"datum": 0, "type": "quantitative"}, "y": {"datum": 0, "type": "quantitative"}, "text": {"field": "label"}}}
         ]}
      ], "spacing": 0, "bounds": "flush"}
    ], "spacing": 0, "bounds": "flush"}
  ], "spacing": 0, "bounds": "flush"},
  {"width": 1, "height": 237, "mark": "point"},
  {"hconcat": [
    {"width": 50, "height": 181, "mark": "point", "title": {"text": "c", "dx": 5, "offset": -19}},
    {"vconcat": [
      {"width": 1, "height": 41, "mark": "point"},
      {"width": 206, "height": 140,
       "layer": [
        {"data": {"name": "c_bars"}, "mark": {"type": "bar", "stroke": "#111", "strokeWidth": 3, "fill": "white"},
         "encoding": {
          "x": {"field": "treatment", "type": "nominal", "sort": null, "scale": {"domain": ["Control", "IL-4", "IL-4+Anti-IL-10", "IL-4+Anti-TGFβ", "IL-4+Anti-IL-13"], "paddingInner": 0.36, "paddingOuter": 0.16}, "axis": {"title": null, "labelAngle": -45, "labelPadding": 4}},
          "y": {"field": "mean", "type": "quantitative", "scale": {"domain": [0, 20]}, "axis": {"values": [0, 5, 10, 15, 20], "tickCount": 100, "format": "d", "title": "V2 T Cell (×10⁶)"}}
         }},
        {"data": {"name": "c_bars"}, "mark": {"type": "rule", "color": "#111", "strokeWidth": 3},
         "encoding": {"x": {"field": "treatment", "type": "nominal"}, "y": {"field": "mean", "type": "quantitative"}, "y2": {"field": "upper"}}},
        {"data": {"name": "c_bars"}, "mark": {"type": "tick", "orient": "horizontal", "size": 18, "thickness": 3, "color": "#111", "opacity": 1},
         "encoding": {"x": {"field": "treatment", "type": "nominal"}, "y": {"field": "upper", "type": "quantitative"}}},
        {"data": {"name": "brackets"}, "transform": [{"filter": "datum.panel == 'c'"}], "mark": {"type": "rule", "color": "#111", "strokeWidth": 3, "strokeCap": "square"},
         "encoding": {"x": {"field": "from", "type": "nominal"}, "x2": {"field": "to"}, "y": {"field": "top", "type": "quantitative"}, "y2": {"field": "bottom"}}},
        {"data": {"name": "stars"}, "transform": [{"filter": "datum.panel == 'c'"}], "mark": {"type": "text", "fontSize": 13, "color": "#222", "baseline": "middle"},
         "encoding": {"x": {"field": "group", "type": "nominal"}, "y": {"field": "height", "type": "quantitative"}, "text": {"field": "label"}}}
       ]}
    ], "spacing": 0, "bounds": "flush"},
    {"width": 206, "height": 181, "mark": "point"},
    {"width": 72, "height": 181, "mark": "point", "title": {"text": "d", "dx": 16, "offset": -19}},
    {"vconcat": [
      {"width": 1, "height": 31, "mark": "point"},
      {"width": 227, "height": 150,
       "layer": [
        {"data": {"name": "d_growth"}, "mark": {"type": "line", "color": "#111", "strokeWidth": 3},
         "encoding": {
          "x": {"field": "day", "type": "quantitative", "scale": {"domain": [4, 12], "nice": false, "zero": false}, "axis": {"values": [5, 7, 9, 11], "tickCount": 100, "format": "d", "title": "Day", "titlePadding": 4}},
          "y": {"field": "mean", "type": "quantitative", "scale": {"domain": [0, 25]}, "axis": {"values": [0, 5, 10, 15, 20, 25], "tickCount": 100, "format": "d", "title": "Vδ 2 T Cell (×10⁴)"}},
          "detail": {"field": "group", "type": "nominal"}
         }},
        {"data": {"name": "d_growth"}, "mark": {"type": "rule", "color": "#111", "strokeWidth": 3},
         "encoding": {"x": {"field": "day", "type": "quantitative"}, "y": {"field": "lo", "type": "quantitative"}, "y2": {"field": "hi"}}},
        {"data": {"name": "d_growth"}, "mark": {"type": "tick", "orient": "horizontal", "size": 10, "thickness": 3, "color": "#111", "opacity": 1},
         "encoding": {"x": {"field": "day", "type": "quantitative"}, "y": {"field": "lo", "type": "quantitative"}}},
        {"data": {"name": "d_growth"}, "mark": {"type": "tick", "orient": "horizontal", "size": 10, "thickness": 3, "color": "#111", "opacity": 1},
         "encoding": {"x": {"field": "day", "type": "quantitative"}, "y": {"field": "hi", "type": "quantitative"}}},
        {"data": {"name": "d_growth"}, "transform": [{"filter": "datum.group == 'Control'"}], "mark": {"type": "point", "shape": "circle", "filled": true, "color": "#111", "size": 45, "opacity": 1},
         "encoding": {"x": {"field": "day", "type": "quantitative"}, "y": {"field": "mean", "type": "quantitative"}}},
        {"data": {"name": "d_growth"}, "transform": [{"filter": "datum.group == 'IL-10'"}], "mark": {"type": "point", "shape": "square", "filled": true, "color": "#111", "size": 45, "opacity": 1},
         "encoding": {"x": {"field": "day", "type": "quantitative"}, "y": {"field": "mean", "type": "quantitative"}}},
        {"data": {"name": "d_growth"}, "transform": [{"filter": "false"}], "mark": {"type": "point", "filled": true, "color": "#111", "opacity": 1},
         "encoding": {
          "x": {"field": "day", "type": "quantitative"},
          "y": {"field": "mean", "type": "quantitative"},
          "shape": {"field": "group", "type": "nominal", "scale": {"domain": ["Control", "IL-10"], "range": ["M-3.6,-0.3H0V0.3H-3.6Z M-0.95,0A0.95,0.95,0,1,0,0.95,0A0.95,0.95,0,1,0,-0.95,0Z", "M-3.6,-0.3H0V0.3H-3.6Z M-0.85,-0.85H0.85V0.85H-0.85Z"]},
            "legend": {"orient": "none", "legendX": 541, "legendY": 284, "title": null, "symbolSize": 50, "symbolFillColor": "#111", "symbolStrokeColor": "#111", "symbolStrokeWidth": 0, "symbolOpacity": 1, "labelFontSize": 12, "labelOffset": 4, "rowPadding": 1, "padding": 0}}
         }},
        {"data": {"name": "d_stars"}, "mark": {"type": "text", "fontSize": 13, "color": "#222", "baseline": "middle"},
         "encoding": {"x": {"field": "day", "type": "quantitative"}, "y": {"field": "height", "type": "quantitative"}, "text": {"field": "label"}}}
       ]}
    ], "spacing": 0, "bounds": "flush"},
    {"width": 227, "height": 181, "mark": "point"},
    {"width": 87, "height": 181, "mark": "point", "title": {"text": "e", "dx": 48, "offset": -12}},
    {"width": 125, "height": 179,
     "layer": [
      {"data": {"name": "e_bars"}, "mark": {"type": "bar", "stroke": "#111", "strokeWidth": 3, "fill": "white"},
       "encoding": {
        "x": {"field": "treatment", "type": "nominal", "sort": null, "scale": {"domain": ["Control", "IL-10", "Anti-IL-10"], "paddingInner": 0.36, "paddingOuter": 0.26}, "axis": {"title": null, "labelAngle": 0, "labelPadding": 3, "labelFontSize": 11}},
        "y": {"field": "mean", "type": "quantitative", "scale": {"domain": [0, 6]}, "axis": {"values": [0, 2, 4, 6], "tickCount": 100, "format": "d", "title": "Vδ 2 T Cell (×10⁴)"}}
       }},
      {"data": {"name": "e_bars"}, "mark": {"type": "rule", "color": "#111", "strokeWidth": 3},
       "encoding": {"x": {"field": "treatment", "type": "nominal"}, "y": {"field": "mean", "type": "quantitative"}, "y2": {"field": "upper"}}},
      {"data": {"name": "e_bars"}, "mark": {"type": "tick", "orient": "horizontal", "size": 18, "thickness": 3, "color": "#111", "opacity": 1},
       "encoding": {"x": {"field": "treatment", "type": "nominal"}, "y": {"field": "upper", "type": "quantitative"}}},
      {"data": {"name": "brackets"}, "transform": [{"filter": "datum.panel == 'e'"}], "mark": {"type": "rule", "color": "#111", "strokeWidth": 3, "strokeCap": "square"},
       "encoding": {"x": {"field": "from", "type": "nominal"}, "x2": {"field": "to"}, "y": {"field": "top", "type": "quantitative"}, "y2": {"field": "bottom"}}},
      {"data": {"name": "stars"}, "transform": [{"filter": "datum.panel == 'e'"}], "mark": {"type": "text", "fontSize": 13, "color": "#222", "baseline": "middle"},
       "encoding": {"x": {"field": "group", "type": "nominal"}, "y": {"field": "height", "type": "quantitative"}, "text": {"field": "label"}}}
     ]}
  ], "spacing": 0, "bounds": "flush"},
  {"width": 1, "height": 262, "mark": "point"},
  {"hconcat": [
    {"width": 273, "height": 168, "mark": "point", "title": {"text": "f", "dx": 213, "offset": -4}},
    {"width": 112, "height": 168,
     "layer": [
      {"data": {"name": "f_bars"}, "transform": [{"filter": "datum.panel == 'f1'"}], "mark": {"type": "bar", "stroke": "#111", "strokeWidth": 3},
       "encoding": {
        "x": {"field": "cell", "type": "nominal", "sort": null, "scale": {"domain": ["Vδ1 T", "Vδ2 T"], "paddingInner": 0.355, "paddingOuter": 0.19}, "axis": {"title": null, "labelAngle": 0, "labelPadding": 3}},
        "y": {"field": "mean", "type": "quantitative", "scale": {"domain": [0, 150]}, "axis": {"values": [0, 50, 100, 150], "tickCount": 100, "format": "d", "title": "IL-10 (pg/mL)"}},
        "fill": {"condition": {"test": "datum.cell == 'Vδ2 T'", "value": "#111"}, "value": "white"}
       }},
      {"data": {"name": "f_bars"}, "transform": [{"filter": "datum.panel == 'f1'"}], "mark": {"type": "rule", "color": "#111", "strokeWidth": 3},
       "encoding": {"x": {"field": "cell", "type": "nominal"}, "y": {"field": "mean", "type": "quantitative"}, "y2": {"field": "upper"}}},
      {"data": {"name": "f_bars"}, "transform": [{"filter": "datum.panel == 'f1'"}], "mark": {"type": "tick", "orient": "horizontal", "size": 22, "thickness": 3, "color": "#111", "opacity": 1},
       "encoding": {"x": {"field": "cell", "type": "nominal"}, "y": {"field": "upper", "type": "quantitative"}}},
      {"data": {"name": "brackets"}, "transform": [{"filter": "datum.panel == 'f1'"}], "mark": {"type": "rule", "color": "#111", "strokeWidth": 3, "strokeCap": "square"},
       "encoding": {"x": {"field": "from", "type": "nominal"}, "x2": {"field": "to"}, "y": {"field": "top", "type": "quantitative"}, "y2": {"field": "bottom"}}},
      {"data": {"name": "stars"}, "transform": [{"filter": "datum.panel == 'f1'"}], "mark": {"type": "text", "fontSize": 13, "color": "#222", "baseline": "middle"},
       "encoding": {"x": {"field": "group", "type": "nominal"}, "y": {"field": "height", "type": "quantitative"}, "text": {"field": "label"}}}
     ]},
    {"width": 78, "height": 168, "mark": "point"},
    {"width": 127, "height": 168,
     "layer": [
      {"data": {"name": "f_bars"}, "transform": [{"filter": "datum.panel == 'f2'"}], "mark": {"type": "bar", "stroke": "#111", "strokeWidth": 3},
       "encoding": {
        "x": {"field": "cell", "type": "nominal", "sort": null, "scale": {"domain": ["Vδ1 T", "Vδ2 T"], "paddingInner": 0.37, "paddingOuter": 0.33}, "axis": {"title": null, "labelAngle": 0, "labelPadding": 3}},
        "y": {"field": "mean", "type": "quantitative", "scale": {"domain": [0, 1000]}, "axis": {"values": [0, 200, 400, 600, 800, 1000], "tickCount": 100, "format": "d", "title": "IL-10 (pg/mL)"}},
        "fill": {"condition": {"test": "datum.cell == 'Vδ2 T'", "value": "#111"}, "value": "white"}
       }},
      {"data": {"name": "f_bars"}, "transform": [{"filter": "datum.panel == 'f2'"}], "mark": {"type": "rule", "color": "#111", "strokeWidth": 3},
       "encoding": {"x": {"field": "cell", "type": "nominal"}, "y": {"field": "mean", "type": "quantitative"}, "y2": {"field": "upper"}}},
      {"data": {"name": "f_bars"}, "transform": [{"filter": "datum.panel == 'f2'"}], "mark": {"type": "tick", "orient": "horizontal", "size": 22, "thickness": 3, "color": "#111", "opacity": 1},
       "encoding": {"x": {"field": "cell", "type": "nominal"}, "y": {"field": "upper", "type": "quantitative"}}},
      {"data": {"name": "brackets"}, "transform": [{"filter": "datum.panel == 'f2'"}], "mark": {"type": "rule", "color": "#111", "strokeWidth": 3, "strokeCap": "square"},
       "encoding": {"x": {"field": "from", "type": "nominal"}, "x2": {"field": "to"}, "y": {"field": "top", "type": "quantitative"}, "y2": {"field": "bottom"}}},
      {"data": {"name": "stars"}, "transform": [{"filter": "datum.panel == 'f2'"}], "mark": {"type": "text", "fontSize": 13, "color": "#222", "baseline": "middle"},
       "encoding": {"x": {"field": "group", "type": "nominal"}, "y": {"field": "height", "type": "quantitative"}, "text": {"field": "label"}}}
     ]}
  ], "spacing": 0, "bounds": "flush"},
  {"width": 1, "height": 226, "mark": "point"},
  {"hconcat": [
    {"width": 33, "height": 162, "mark": "point", "title": {"text": "g", "dx": 1, "offset": -2}},
    {"width": 159, "height": 162,
     "title": {"text": "Vδ1 T", "anchor": "middle", "fontSize": 13, "fontWeight": "normal", "color": "#222", "offset": 3},
     "view": {"stroke": "#111", "strokeWidth": 2},
     "layer": [
      {"data": {"name": "markers"}, "transform": [{"filter": "datum.panel == 'g1' && datum.series == 'antibody'"}],
       "mark": {"type": "area", "color": "#111", "opacity": 1, "interpolate": "monotone"},
       "encoding": {
        "x": {"field": "log_intensity", "type": "quantitative", "scale": {"domain": [0, 5], "nice": false, "zero": false},
              "axis": {"title": "CD124", "domain": false, "labels": false, "tickCount": 200, "values": [0,0.301,0.477,0.602,0.699,0.778,0.845,0.903,0.954,1,1.301,1.477,1.602,1.699,1.778,1.845,1.903,1.954,2,2.301,2.477,2.602,2.699,2.778,2.845,2.903,2.954,3,3.301,3.477,3.602,3.699,3.778,3.845,3.903,3.954,4,4.301,4.477,4.602,4.699,4.778,4.845,4.903,4.954,5], "tickWidth": 1.5, "tickSize": 3, "titleFontSize": 11, "titlePadding": 1}},
        "y": {"field": "count", "type": "quantitative", "scale": {"domain": [0, 100]}, "axis": null}
       }},
      {"data": {"name": "markers"}, "transform": [{"filter": "datum.panel == 'g1' && datum.series == 'control'"}],
       "mark": {"type": "line", "color": "#999", "strokeWidth": 2.5, "interpolate": "monotone"},
       "encoding": {"x": {"field": "log_intensity", "type": "quantitative"}, "y": {"field": "count", "type": "quantitative"}}}
     ]},
    {"width": 12, "height": 162, "mark": "point"},
    {"width": 159, "height": 162,
     "title": {"text": "Vδ2 T", "anchor": "middle", "fontSize": 13, "fontWeight": "normal", "color": "#222", "offset": 3},
     "view": {"stroke": "#111", "strokeWidth": 2},
     "layer": [
      {"data": {"name": "markers"}, "transform": [{"filter": "datum.panel == 'g2' && datum.series == 'antibody'"}],
       "mark": {"type": "area", "color": "#111", "opacity": 1, "interpolate": "monotone"},
       "encoding": {
        "x": {"field": "log_intensity", "type": "quantitative", "scale": {"domain": [0, 5], "nice": false, "zero": false},
              "axis": {"title": "CD124", "domain": false, "labels": false, "tickCount": 200, "values": [0,0.301,0.477,0.602,0.699,0.778,0.845,0.903,0.954,1,1.301,1.477,1.602,1.699,1.778,1.845,1.903,1.954,2,2.301,2.477,2.602,2.699,2.778,2.845,2.903,2.954,3,3.301,3.477,3.602,3.699,3.778,3.845,3.903,3.954,4,4.301,4.477,4.602,4.699,4.778,4.845,4.903,4.954,5], "tickWidth": 1.5, "tickSize": 3, "titleFontSize": 11, "titlePadding": 1}},
        "y": {"field": "count", "type": "quantitative", "scale": {"domain": [0, 100]}, "axis": null}
       }},
      {"data": {"name": "markers"}, "transform": [{"filter": "datum.panel == 'g2' && datum.series == 'control'"}],
       "mark": {"type": "line", "color": "#999", "strokeWidth": 2.5, "interpolate": "monotone"},
       "encoding": {"x": {"field": "log_intensity", "type": "quantitative"}, "y": {"field": "count", "type": "quantitative"}}}
     ]},
    {"width": 69, "height": 162, "mark": "point", "title": {"text": "h", "dx": 45, "offset": -1}},
    {"width": 159, "height": 162,
     "title": {"text": "Vδ1 T", "anchor": "middle", "fontSize": 13, "fontWeight": "normal", "color": "#222", "offset": 3},
     "view": {"stroke": "#111", "strokeWidth": 2},
     "layer": [
      {"data": {"name": "markers"}, "transform": [{"filter": "datum.panel == 'h1' && datum.series == 'antibody'"}],
       "mark": {"type": "area", "color": "#111", "opacity": 1, "interpolate": "monotone"},
       "encoding": {
        "x": {"field": "log_intensity", "type": "quantitative", "scale": {"domain": [0, 5], "nice": false, "zero": false},
              "axis": {"title": "CD210", "domain": false, "labels": false, "tickCount": 200, "values": [0,0.301,0.477,0.602,0.699,0.778,0.845,0.903,0.954,1,1.301,1.477,1.602,1.699,1.778,1.845,1.903,1.954,2,2.301,2.477,2.602,2.699,2.778,2.845,2.903,2.954,3,3.301,3.477,3.602,3.699,3.778,3.845,3.903,3.954,4,4.301,4.477,4.602,4.699,4.778,4.845,4.903,4.954,5], "tickWidth": 1.5, "tickSize": 3, "titleFontSize": 11, "titlePadding": 1}},
        "y": {"field": "count", "type": "quantitative", "scale": {"domain": [0, 100]}, "axis": null}
       }},
      {"data": {"name": "markers"}, "transform": [{"filter": "datum.panel == 'h1' && datum.series == 'control'"}],
       "mark": {"type": "line", "color": "#999", "strokeWidth": 2.5, "interpolate": "monotone"},
       "encoding": {"x": {"field": "log_intensity", "type": "quantitative"}, "y": {"field": "count", "type": "quantitative"}}}
     ]},
    {"width": 10, "height": 162, "mark": "point"},
    {"width": 161, "height": 162,
     "title": {"text": "Vδ2 T", "anchor": "middle", "fontSize": 13, "fontWeight": "normal", "color": "#222", "offset": 3},
     "view": {"stroke": "#111", "strokeWidth": 2},
     "layer": [
      {"data": {"name": "markers"}, "transform": [{"filter": "datum.panel == 'h2' && datum.series == 'antibody'"}],
       "mark": {"type": "area", "color": "#111", "opacity": 1, "interpolate": "monotone"},
       "encoding": {
        "x": {"field": "log_intensity", "type": "quantitative", "scale": {"domain": [0, 5], "nice": false, "zero": false},
              "axis": {"title": "CD210", "domain": false, "labels": false, "tickCount": 200, "values": [0,0.301,0.477,0.602,0.699,0.778,0.845,0.903,0.954,1,1.301,1.477,1.602,1.699,1.778,1.845,1.903,1.954,2,2.301,2.477,2.602,2.699,2.778,2.845,2.903,2.954,3,3.301,3.477,3.602,3.699,3.778,3.845,3.903,3.954,4,4.301,4.477,4.602,4.699,4.778,4.845,4.903,4.954,5], "tickWidth": 1.5, "tickSize": 3, "titleFontSize": 11, "titlePadding": 1}},
        "y": {"field": "count", "type": "quantitative", "scale": {"domain": [0, 100]}, "axis": null}
       }},
      {"data": {"name": "markers"}, "transform": [{"filter": "datum.panel == 'h2' && datum.series == 'control'"}],
       "mark": {"type": "line", "color": "#999", "strokeWidth": 2.5, "interpolate": "monotone"},
       "encoding": {"x": {"field": "log_intensity", "type": "quantitative"}, "y": {"field": "count", "type": "quantitative"}}}
     ]}
  ], "spacing": 0, "bounds": "flush"}
]
}
